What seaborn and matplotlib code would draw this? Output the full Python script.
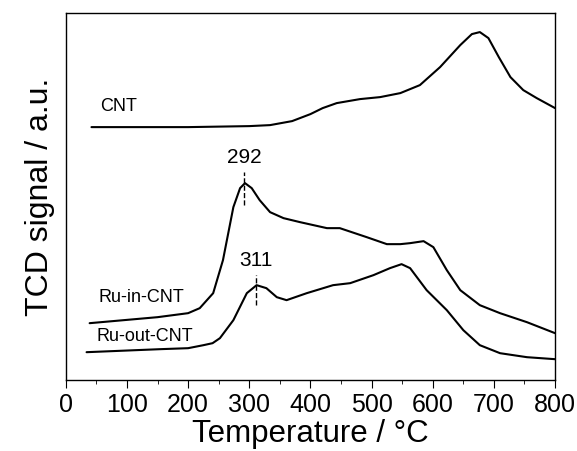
import matplotlib
matplotlib.use("Agg")
import matplotlib.pyplot as plt
import seaborn as sns
import pandas as pd

# TPO profiles (temperature in degC, signal in a.u.)
cnt_t = [42, 100, 200, 300, 334, 370, 400, 420, 443, 481, 514, 547, 579, 612, 645, 664, 677, 691, 708, 727, 748, 770, 800]
cnt_s = [253, 253, 253, 254, 255, 259, 266, 272, 277, 281, 283, 287, 295, 313, 335, 346, 348, 342, 323, 303, 290, 282, 272]

ru_in_t = [39, 150, 200, 219, 241, 257, 274, 285, 293, 304, 317, 334, 356, 383, 427, 448, 492, 525, 547, 563, 585, 601, 623, 645, 677, 710, 754, 800]
ru_in_s = [57, 63, 67, 72, 87, 120, 173, 192, 197, 192, 180, 168, 162, 158, 152, 152, 143, 136, 136, 137, 139, 133, 110, 90, 75, 67, 58, 47]

ru_out_t = [34, 154, 200, 225, 240, 252, 274, 296, 312, 328, 345, 361, 394, 437, 465, 503, 530, 549, 563, 590, 623, 650, 677, 710, 754, 800]
ru_out_s = [28, 31, 32, 35, 37, 42, 60, 87, 95, 92, 83, 80, 87, 95, 97, 105, 112, 116, 112, 90, 70, 50, 35, 27, 23, 21]

labels = ["CNT", "Ru-in-CNT", "Ru-out-CNT"]
peaks = [292, 311]

df = pd.concat([
    pd.DataFrame({"T": cnt_t, "S": cnt_s, "sample": labels[0]}),
    pd.DataFrame({"T": ru_in_t, "S": ru_in_s, "sample": labels[1]}),
    pd.DataFrame({"T": ru_out_t, "S": ru_out_s, "sample": labels[2]}),
])

sns.set_style("ticks", {"axes.edgecolor": "black", "text.color": "black",
                        "axes.labelcolor": "black", "xtick.color": "black"})
plt.rcParams["font.family"] = ["Liberation Sans", "DejaVu Sans"]

fig, ax = plt.subplots(figsize=(5.77, 4.51), dpi=100)
sns.lineplot(data=df, x="T", y="S", units="sample", estimator=None, sort=False,
             color="black", lw=1.5, ax=ax, legend=False)

# sample names
ax.text(56, 274, labels[0], fontsize=13, va="center")
ax.text(54, 83, labels[1], fontsize=13, va="center")
ax.text(50, 44, labels[2], fontsize=13, va="center")

# peak markers
ax.plot([peaks[0], peaks[0]], [175, 208], ls="--", color="black", lw=1)
ax.text(peaks[0], 213, str(peaks[0]), fontsize=15, ha="center", va="bottom")
ax.plot([peaks[1], peaks[1]], [75, 105], ls="--", color="black", lw=1)
ax.text(peaks[1], 110, str(peaks[1]), fontsize=15, ha="center", va="bottom")

ax.set_xlim(0, 800)
ax.set_ylim(0, 367)
ax.set_xticks(range(0, 801, 100))
ax.set_xticks(range(50, 801, 100), minor=True)
ax.set_yticks([])
ax.tick_params(axis="x", which="major", length=6, labelsize=18, pad=3)
ax.tick_params(axis="x", which="minor", length=3)
for sp in ax.spines.values():
    sp.set_visible(True)
    sp.set_linewidth(1.0)
ax.set_xlabel("Temperature / °C", fontsize=22.5, labelpad=2)
ax.set_ylabel("TCD signal / a.u.", fontsize=23, labelpad=8)

plt.subplots_adjust(left=0.114, right=0.962, bottom=0.157, top=0.971)
plt.savefig("out.png")
